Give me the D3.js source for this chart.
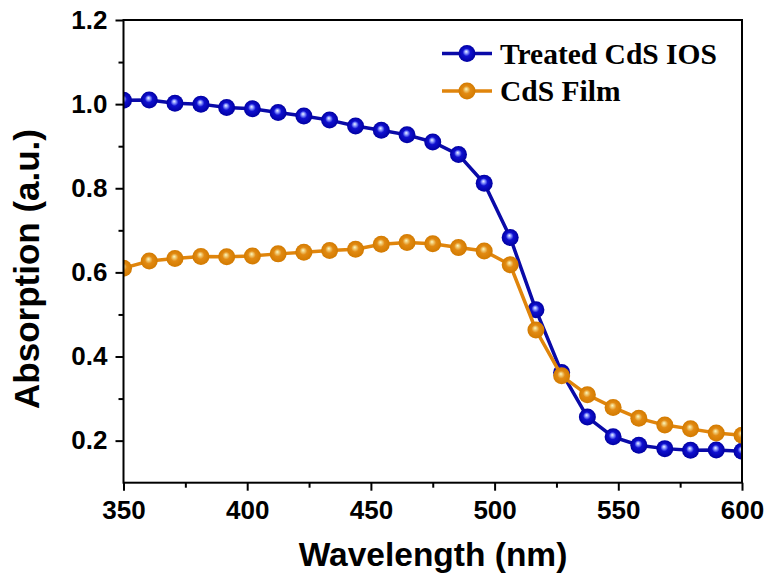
<!DOCTYPE html>
<html>
<head>
<meta charset="utf-8">
<script src="https://cdn.jsdelivr.net/npm/d3@7"></script>
<style>
  body { margin: 0; background: #fff; }
  svg { display: block; }
</style>
</head>
<body>
<svg id="mainSvg" width="767" height="578"></svg>
<script>
// wavelengths (nm)
let wavelength = [350, 360.4, 370.8, 381.3, 391.7, 402.1, 412.5, 422.9, 433.3, 443.8, 454.2, 464.6, 475,
  485.4, 495.8, 506.3, 516.7, 527.1, 537.5, 547.9, 558.3, 568.8, 579.2, 589.6, 600];
let treatedIOS = [1.009, 1.010, 1.002, 1.000, 0.992, 0.989, 0.980, 0.972, 0.962, 0.948, 0.938, 0.927, 0.910,
  0.880, 0.812, 0.683, 0.511, 0.362, 0.256, 0.209, 0.189, 0.181, 0.177, 0.178, 0.175];
let cdsFilm = [0.610, 0.627, 0.633, 0.638, 0.637, 0.639, 0.644, 0.648, 0.652, 0.655, 0.667, 0.671, 0.668,
  0.659, 0.651, 0.618, 0.463, 0.354, 0.309, 0.279, 0.253, 0.237, 0.228, 0.218, 0.213];
let seriesNames = ['Treated CdS IOS', 'CdS Film'];
let xTicks = [350, 400, 450, 500, 550, 600];
let xMinor = [375, 425, 475, 525, 575];
let yTicks = [0.2, 0.4, 0.6, 0.8, 1.0, 1.2];
let yMinor = [0.3, 0.5, 0.7, 0.9, 1.1];

let svg = d3.select('#mainSvg');
let pLeft = 123.5, pRight = 742, pTop = 20, pBottom = 482.7;

let x = d3.scaleLinear().domain([350, 600]).range([pLeft, pRight]);
let y = d3.scaleLinear().domain([0.1, 1.2]).range([pBottom, pTop]);

let series = [
  {name: seriesNames[0], values: treatedIOS, line: '#0a0aa8', grad: 'ballBlue',
    stops: ['#f2f5ff', '#8a98ff', '#1010d0', '#0000a2']},
  {name: seriesNames[1], values: cdsFilm, line: '#e0850c', grad: 'ballOrange',
    stops: ['#fcf8c0', '#f0c870', '#e28a12', '#d27a00']}
];

let defs = svg.append('defs');
series.forEach(s => {
  let g = defs.append('radialGradient').attr('id', s.grad)
    .attr('cx', '50%').attr('cy', '50%').attr('r', '50%')
    .attr('fx', '45%').attr('fy', '38%');
  g.append('stop').attr('offset', '0%').attr('stop-color', s.stops[0]);
  g.append('stop').attr('offset', '20%').attr('stop-color', s.stops[1]);
  g.append('stop').attr('offset', '45%').attr('stop-color', s.stops[2]);
  g.append('stop').attr('offset', '100%').attr('stop-color', s.stops[3]);
});
defs.append('clipPath').attr('id', 'plotClip')
  .append('rect').attr('x', pLeft).attr('y', pTop)
  .attr('width', pRight - pLeft).attr('height', pBottom - pTop);

// data
let plot = svg.append('g').attr('clip-path', 'url(#plotClip)');
let line = d3.line().x((d, i) => x(wavelength[i])).y(d => y(d));

series.forEach(s => {
  plot.append('path')
    .attr('d', line(s.values))
    .attr('fill', 'none')
    .attr('stroke', s.line)
    .attr('stroke-width', 3.5);
  plot.selectAll(null).data(s.values).enter().append('circle')
    .attr('cx', (d, i) => x(wavelength[i]))
    .attr('cy', d => y(d))
    .attr('r', 8.5)
    .attr('fill', 'url(#' + s.grad + ')');
});

// axes
let fontSans = 'Liberation Sans, Arial, sans-serif';
svg.append('g').attr('transform', 'translate(0,' + pBottom + ')')
  .call(d3.axisBottom(x).tickValues(xTicks).tickSize(8).tickPadding(10).tickFormat(d3.format('d')));
svg.append('g').attr('transform', 'translate(0,' + pBottom + ')')
  .call(d3.axisBottom(x).tickValues(xMinor).tickSize(5).tickFormat(''));
svg.append('g').attr('transform', 'translate(' + pLeft + ',0)')
  .call(d3.axisLeft(y).tickValues(yTicks).tickSize(8).tickPadding(8).tickFormat(d3.format('.1f')));
svg.append('g').attr('transform', 'translate(' + pLeft + ',0)')
  .call(d3.axisLeft(y).tickValues(yMinor).tickSize(5).tickFormat(''));

svg.selectAll('.domain').remove();
svg.selectAll('.tick line').attr('stroke', '#000').attr('stroke-width', 2);
svg.selectAll('.tick text')
  .attr('fill', '#000')
  .style('font-family', fontSans)
  .style('font-weight', 'bold')
  .style('font-size', '26px');

// frame
svg.append('rect')
  .attr('x', pLeft).attr('y', pTop)
  .attr('width', pRight - pLeft).attr('height', pBottom - pTop)
  .attr('fill', 'none').attr('stroke', '#000').attr('stroke-width', 2);

// titles
svg.append('text')
  .attr('x', 433).attr('y', 566)
  .attr('text-anchor', 'middle')
  .style('font-family', fontSans).style('font-weight', 'bold').style('font-size', '33.5px')
  .text('Wavelength (nm)');
svg.append('text')
  .attr('transform', 'translate(39,269) rotate(-90)')
  .attr('text-anchor', 'middle')
  .style('font-family', fontSans).style('font-weight', 'bold').style('font-size', '35px')
  .text('Absorption (a.u.)');

// legend
let legend = svg.append('g');
series.forEach((s, i) => {
  let ly = 53.5 + i * 37.5;
  legend.append('line')
    .attr('x1', 442).attr('x2', 492).attr('y1', ly).attr('y2', ly)
    .attr('stroke', s.line).attr('stroke-width', 3.5);
  legend.append('circle')
    .attr('cx', 467).attr('cy', ly).attr('r', 8.5)
    .attr('fill', 'url(#' + s.grad + ')');
  legend.append('text')
    .attr('x', 500).attr('y', ly + 10)
    .style('font-family', 'Liberation Serif, Times New Roman, serif')
    .style('font-weight', 'bold').style('font-size', '29.5px')
    .text(s.name);
});
</script>
</body>
</html>
